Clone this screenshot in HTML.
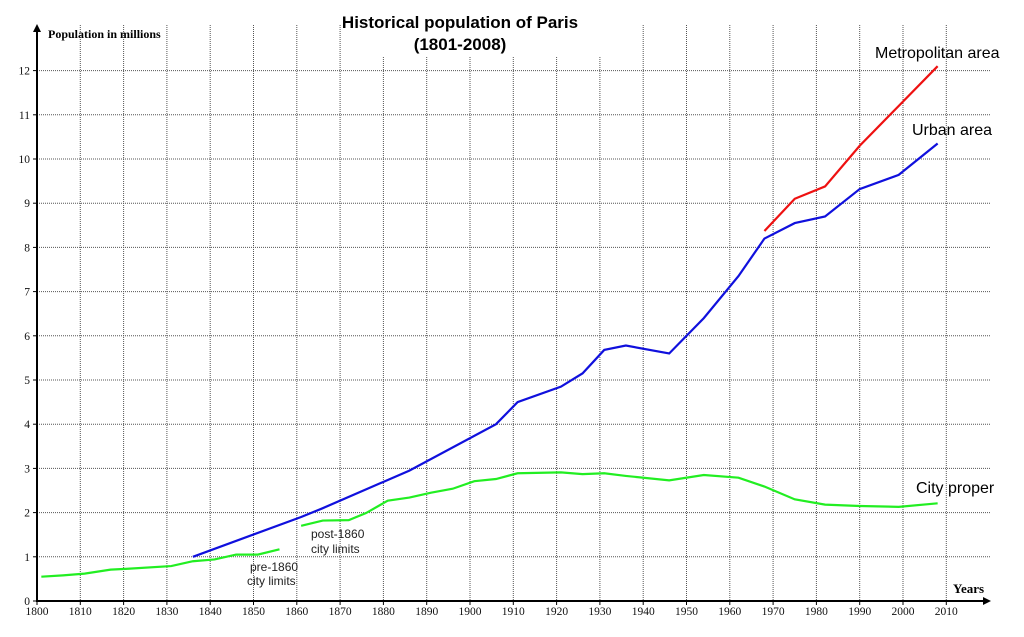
<!DOCTYPE html>
<html><head><meta charset="utf-8"><style>
body{margin:0;background:#fff;}
svg{display:block;}
</style></head><body>
<svg width="1024" height="637" xmlns="http://www.w3.org/2000/svg">
<g id="grid"></g>
<g id="axes"></g>
<g id="series"></g>
<text x="460" y="28" text-anchor="middle" font-family="Liberation Sans, sans-serif" font-weight="bold" font-size="17">Historical population of Paris</text>
<text x="460" y="50" text-anchor="middle" font-family="Liberation Sans, sans-serif" font-weight="bold" font-size="17">(1801-2008)</text>
<text x="48" y="38" font-family="Liberation Serif, serif" font-weight="bold" font-size="12">Population in millions</text>
<text x="953" y="593" font-family="Liberation Serif, serif" font-weight="bold" font-size="13">Years</text>
<text x="875" y="58" font-family="Liberation Sans, sans-serif" font-size="16">Metropolitan area</text>
<text x="912" y="135" font-family="Liberation Sans, sans-serif" font-size="16">Urban area</text>
<text x="916" y="493" font-family="Liberation Sans, sans-serif" font-size="16">City proper</text>
<g font-family="Liberation Sans, sans-serif" font-size="12" fill="#222">
<text x="250" y="571">pre-1860</text>
<text x="247" y="585">city limits</text>
<text x="311" y="538">post-1860</text>
<text x="311" y="553">city limits</text>
</g>
<script>
const xTicks=[1800,1810,1820,1830,1840,1850,1860,1870,1880,1890,1900,1910,1920,1930,1940,1950,1960,1970,1980,1990,2000,2010];
const yTicks=[0,1,2,3,4,5,6,7,8,9,10,11,12];
const cityPreYears=[1801,1806,1811,1817,1821,1831,1836,1841,1846,1851,1856];
const cityPreVals=[0.55,0.58,0.62,0.71,0.73,0.79,0.90,0.94,1.05,1.05,1.17];
const cityPostYears=[1861,1866,1872,1876,1881,1886,1891,1896,1901,1906,1911,1921,1926,1931,1936,1946,1954,1962,1968,1975,1982,1990,1999,2008];
const cityPostVals=[1.70,1.82,1.83,1.99,2.27,2.34,2.45,2.54,2.71,2.76,2.89,2.91,2.87,2.89,2.83,2.73,2.85,2.79,2.59,2.30,2.18,2.15,2.13,2.21];
const urbanYears=[1836,1861,1866,1886,1906,1911,1921,1926,1931,1936,1946,1954,1962,1968,1975,1982,1990,1999,2008];
const urbanVals=[1.0,1.9,2.1,2.95,4.0,4.5,4.85,5.15,5.68,5.78,5.6,6.4,7.35,8.2,8.55,8.7,9.32,9.64,10.35];
const metroYears=[1968,1975,1982,1990,1999,2008];
const metroVals=[8.37,9.1,9.38,10.3,11.2,12.1];
const NS='http://www.w3.org/2000/svg';
const X=y=>37+(y-1800)*4.33;
const Y=v=>601-v*44.2;
function mk(tag,attrs,parent){const e=document.createElementNS(NS,tag);for(const k in attrs)e.setAttribute(k,attrs[k]);parent.appendChild(e);return e;}
const grid=document.getElementById('grid'),axes=document.getElementById('axes'),series=document.getElementById('series');
xTicks.forEach(t=>{if(t===1800)return;const top=(t>=1880&&t<=1930)?57:25;
 const l=mk('line',{x1:X(t),x2:X(t),y1:top,y2:601,stroke:'#555','stroke-width':1,'stroke-dasharray':'1,1'},grid);
 
 });
yTicks.forEach(t=>{if(t===0)return;
 const l=mk('line',{x1:37,x2:990,y1:Y(t),y2:Y(t),stroke:'#555','stroke-width':1,'stroke-dasharray':'1,1'},grid);
 
 });
let a=mk('line',{x1:37,x2:37,y1:30,y2:602,stroke:'#000','stroke-width':2},axes);


a=mk('polygon',{points:'33,32 41,32 37,24',fill:'#000'},axes);


a=mk('line',{x1:36,x2:985,y1:601,y2:601,stroke:'#000','stroke-width':2},axes);


a=mk('polygon',{points:'983,597 983,605 991,601',fill:'#000'},axes);


xTicks.forEach(t=>{const tx=mk('text',{x:X(t),y:615,'text-anchor':'middle','font-family':'Liberation Serif, serif','font-size':11.5,fill:'#111'},axes);tx.textContent=t;
 
 
 const tk=mk('line',{x1:X(t),x2:X(t),y1:601,y2:605,stroke:'#000'},axes);
 
 });
yTicks.forEach(t=>{const tx=mk('text',{x:30,y:Y(t)+4,'text-anchor':'end','font-family':'Liberation Serif, serif','font-size':11.5,fill:'#111'},axes);tx.textContent=t;
 
 
 const tk=mk('line',{x1:33,x2:37,y1:Y(t),y2:Y(t),stroke:'#000'},axes);
 
 });
function line(ys,vs,color,name){const p=mk('polyline',{points:ys.map((y,i)=>X(y)+','+Y(vs[i])).join(' '),fill:'none',stroke:color,'stroke-width':2.2},series);
 
 }
line(cityPreYears,cityPreVals,'#22ee22','city-proper-pre-1860-line');
line(cityPostYears,cityPostVals,'#22ee22','city-proper-post-1860-line');
line(urbanYears,urbanVals,'#1010dd','urban-area-line');
line(metroYears,metroVals,'#ee1111','metropolitan-area-line');
</script>
</svg>
</body></html>
